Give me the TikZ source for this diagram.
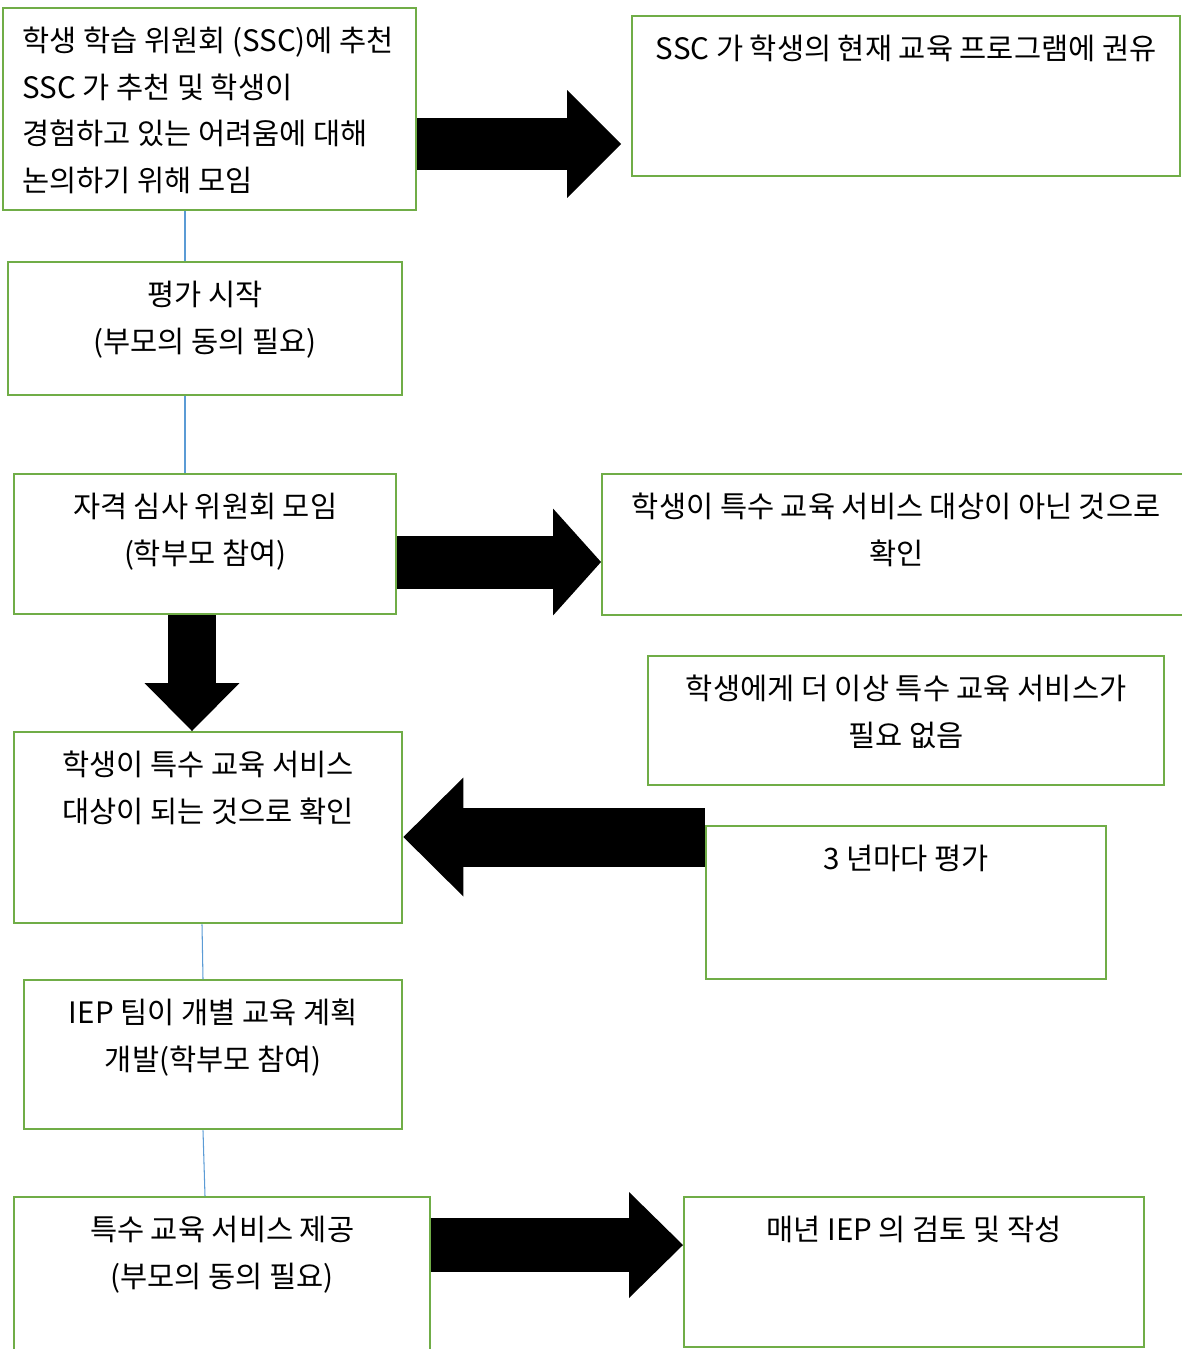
\documentclass[tikz,border=0pt]{standalone}
\usepackage{fontspec}
\setmainfont{Noto Sans CJK KR}
\usepackage{xcolor}
\usepackage{tikz}
\usetikzlibrary{positioning}
\usetikzlibrary{calc,arrows.meta}
\definecolor{boxgreen}{HTML}{70AD47}
\definecolor{linkblue}{HTML}{5B9BD5}
\tikzset{
  box/.style = {draw=boxgreen, line width=1.4pt, anchor=north west,
    inner sep=0pt},% rectangle vert
  txt/.style = {anchor=north, align=center, inner sep=0pt,
    font=\fontsize{16.8}{26.4}\selectfont},% texte du rectangle
  link/.style = {draw=linkblue, line width=0.6pt},% trait fin bleu
  fat/.style n args = {3}{line width=#1,
    -{Triangle[length=#3, width=#2, line width=0pt]}}% grosse fleche noire
}

\begin{document}
\begin{tikzpicture}[x=0.02cm, y=-0.02cm]
\useasboundingbox (0,0) rectangle (1181,1349);
% les rectangles
\node [box, minimum width=8.26cm, minimum height=4.04cm] (refer) at (2,7) {};
\node [box, minimum width=10.96cm, minimum height=3.2cm] (advise) at (631,15) {};
\node [box, minimum width=7.88cm, minimum height=2.66cm] (evalstart) at (7,261) {};
\node [box, minimum width=7.64cm, minimum height=2.8cm] (screen) at (13,473) {};
\node [box, minimum width=12cm, minimum height=2.82cm] (notelig) at (601,473) {};
\node [box, minimum width=10.32cm, minimum height=2.58cm] (noneed) at (647,655) {};
\node [box, minimum width=7.76cm, minimum height=3.82cm] (elig) at (13,731) {};
\node [box, minimum width=8cm, minimum height=3.06cm] (triennial) at (705,825) {};
\node [box, minimum width=7.56cm, minimum height=2.98cm] (iep) at (23,979) {};
\node [box, minimum width=8.32cm, minimum height=3.6cm] (service) at (13,1196) {};
\node [box, minimum width=9.2cm, minimum height=3cm] (annual) at (683,1196) {};
% les textes
\node [txt, anchor=north west, align=left] (refer-t)
  at ($(refer.north west)+(20,20)$)
  {학생 학습 위원회 (SSC)에 추천\\SSC 가 추천 및 학생이\\경험하고 있는 어려움에 대해\\논의하기 위해 모임};
\node [txt] (advise-t) at ($(advise.north)+(0,20)$)
  {SSC 가 학생의 현재 교육 프로그램에 권유};
\node [txt] (evalstart-t) at ($(evalstart.north)+(0,20)$)
  {평가 시작\\(부모의 동의 필요)};
\node [txt] (screen-t) at ($(screen.north)+(0,20)$)
  {자격 심사 위원회 모임\\(학부모 참여)};
\node [txt] (notelig-t) at ($(notelig.north)+(-6,20)$)
  {학생이 특수 교육 서비스 대상이 아닌 것으로\\확인};
\node [txt] (noneed-t) at ($(noneed.north)+(0,20)$)
  {학생에게 더 이상 특수 교육 서비스가\\필요 없음};
\node [txt] (elig-t) at ($(elig.north)+(0,20)$)
  {학생이 특수 교육 서비스\\대상이 되는 것으로 확인};
\node [txt] (triennial-t) at ($(triennial.north)+(0,20)$)
  {3 년마다 평가};
\node [txt] (iep-t) at ($(iep.north)+(0,20)$)
  {IEP 팀이 개별 교육 계획\\개발(학부모 참여)};
\node [txt] (service-t) at ($(service.north)+(0,20)$)
  {특수 교육 서비스 제공\\(부모의 동의 필요)};
\node [txt] (annual-t) at ($(annual.north)+(0,20)$)
  {매년 IEP 의 검토 및 작성};
% traits fins
\draw [link] (refer.south -| 185,0) -- (evalstart.north -| 185,0);
\draw [link] (evalstart.south -| 185,0) -- (screen.north -| 185,0);
\draw [link] (elig.south -| 202,0) -- (iep.north -| 203,0);
\draw [link] (iep.south -| 203,0) -- (service.north -| 205,0);
% grosses fleches
\draw [fat={1.06cm}{2.16cm}{1.08cm}] (refer.east |- 0,144)
  -- ($(advise.west |- 0,144)+(-10,0)$);
\draw [fat={1.06cm}{2.14cm}{0.96cm}] (screen.east |- 0,562)
  -- (notelig.west |- 0,562);
\draw [fat={0.96cm}{1.9cm}{0.96cm}] (screen.south -| 192,0)
  -- (elig.north -| 192,0);
\draw [fat={1.18cm}{2.38cm}{1.2cm}] (triennial.west |- 0,837)
  -- (elig.east |- 0,837);
\draw [fat={1.08cm}{2.12cm}{1.08cm}] (service.east |- 0,1245)
  -- (annual.west |- 0,1245);
\end{tikzpicture}
\end{document}
